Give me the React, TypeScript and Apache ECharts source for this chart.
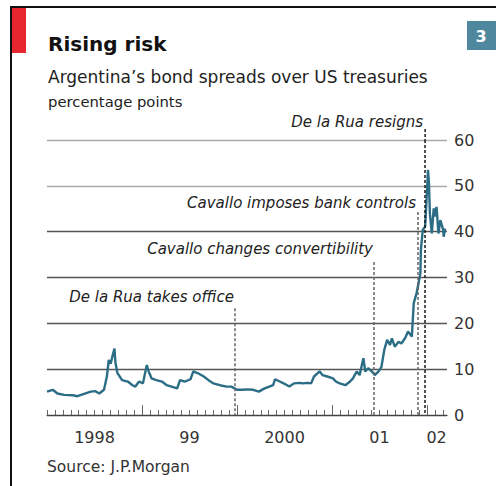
import React, { useEffect, useRef } from "react";
import * as echarts from "echarts";

// Decimal years and spread values in percentage points
const years = [
  1998.0, 1998.06, 1998.11, 1998.18, 1998.27, 1998.32, 1998.39, 1998.46, 1998.51, 1998.55,
  1998.6, 1998.63, 1998.65, 1998.67, 1998.69, 1998.71, 1998.72, 1998.74, 1998.79, 1998.85,
  1998.9, 1998.93, 1998.97, 1999.01, 1999.05, 1999.07, 1999.1, 1999.15, 1999.21, 1999.26,
  1999.31, 1999.37, 1999.4, 1999.45, 1999.51, 1999.54, 1999.59, 1999.65, 1999.7, 1999.75,
  1999.82, 1999.89, 1999.94, 2000.0, 2000.06, 2000.11, 2000.17, 2000.23, 2000.29, 2000.34,
  2000.38, 2000.4, 2000.45, 2000.5, 2000.55, 2000.6, 2000.66, 2000.69, 2000.74, 2000.78,
  2000.81, 2000.87, 2000.9, 2000.95, 2001.01, 2001.04, 2001.08, 2001.14, 2001.19, 2001.22,
  2001.26, 2001.29, 2001.33, 2001.35, 2001.38, 2001.42, 2001.45, 2001.49, 2001.52, 2001.55,
  2001.58, 2001.61, 2001.63, 2001.66, 2001.7, 2001.73, 2001.77, 2001.8, 2001.84, 2001.86,
  2001.89, 2001.91, 2001.93, 2001.935, 2001.955, 2001.98, 2002.0, 2002.01, 2002.02, 2002.03,
  2002.05, 2002.07, 2002.08, 2002.1, 2002.12, 2002.14, 2002.17, 2002.175, 2002.19,
];
const spreads = [
  5.1, 5.5, 4.7, 4.4, 4.3, 4.1, 4.6, 5.1, 5.2, 4.7,
  5.5, 8.4, 12.0, 11.2, 12.9, 14.5, 11.5, 9.2, 7.6, 7.3,
  6.5, 6.2, 7.3, 6.9, 10.9, 9.5, 8.0, 7.6, 7.3, 6.5,
  6.2, 5.8, 7.6, 7.3, 7.8, 9.5, 9.1, 8.4, 7.6, 6.9,
  6.5, 6.2, 6.2, 5.5, 5.5, 5.6, 5.5, 5.1, 5.8, 6.2,
  6.5, 7.8, 7.3, 6.8, 6.2, 6.9, 7.0, 6.9, 7.0, 6.9,
  8.4, 9.5, 8.7, 8.4, 8.0, 7.3, 6.9, 6.5, 7.3, 8.0,
  9.5, 8.7, 12.4, 9.5, 10.2, 9.5, 8.7, 9.5, 10.5, 14.2,
  16.4, 15.3, 16.7, 14.9, 16.0, 15.6, 16.8, 18.2, 17.1, 24.4,
  26.6, 28.7, 30.9, 36.0, 40.4, 41.1, 49.1, 53.5, 50.6, 44.0,
  39.6, 45.1, 43.3, 45.4, 39.6, 42.5, 40.4, 38.9, 40.7,
];

// Events: position (decimal year), top of dashed line (value), label
const eventNames = [
  "De la Rua takes office",
  "Cavallo changes convertibility",
  "Cavallo imposes bank controls",
  "De la Rua resigns",
];
const eventYears = [1999.98, 2001.44, 2001.905, 2001.98];
const eventTops = [23.3, 33.4, 44.3, 62.4];

// Axis ticks/labels
const xMin = 1998.0;
const xMax = 2002.21;
const yMin = 0;
const yMax = 60;
const yearTicks = [1999, 2000, 2001, 2002];
const xLabelPos = [1998.5, 1999.5, 2000.5, 2001.5, 2002.1];
const xLabelText = ["1998", "99", "2000", "01", "02"];
const yTicks = [0, 10, 20, 30, 40, 50, 60];

const monthTicks: number[] = [];
for (let i = 0; i <= 50; i++) monthTicks.push(1998 + i / 12);

const FONT = "DejaVu Sans";
const DASH = [3, 2];

export default function App() {
  const ref = useRef<HTMLDivElement>(null);
  useEffect(() => {
    if (!ref.current) return;
    const chart = echarts.init(ref.current, undefined, { renderer: "svg" });
    const lineData = years.map((y, i) => [y, spreads[i]]);
    const markData = eventYears.map((x, i) => [
      {
        coord: [x, Math.min(eventTops[i], yMax)],
        lineStyle: { color: i === 3 ? "#1a1a1a" : "#666" },
      },
      { coord: [x, 0] },
    ]);
    const textPos = [
      { x: 234, y: 297 },
      { x: 373, y: 249 },
      { x: 416, y: 203 },
      { x: 423, y: 122 },
    ];
    const baseGraphic: any[] = [
      { type: "line", shape: { x1: 10, y1: 7, x2: 496, y2: 7 }, style: { stroke: "#111", lineWidth: 2 } },
      { type: "line", shape: { x1: 11, y1: 6, x2: 11, y2: 486 }, style: { stroke: "#111", lineWidth: 2 } },
      { type: "rect", shape: { x: 12, y: 8, width: 14, height: 45 }, style: { fill: "#e8262f" } },
      { type: "rect", shape: { x: 467, y: 21, width: 29, height: 29 }, style: { fill: "#4f879f" } },
      {
        type: "text",
        x: 481,
        y: 36,
        style: { text: "3", fill: "#fff", font: `bold 16px ${FONT}`, align: "center", verticalAlign: "middle" },
      },
      {
        type: "text",
        x: 48,
        y: 44,
        style: { text: "Rising risk", fill: "#111", font: `bold 20px ${FONT}`, align: "left", verticalAlign: "middle" },
      },
      {
        type: "text",
        x: 48,
        y: 77,
        style: {
          text: "Argentina\u2019s bond spreads over US treasuries",
          fill: "#222",
          font: `17px ${FONT}`,
          align: "left",
          verticalAlign: "middle",
        },
      },
      {
        type: "text",
        x: 48,
        y: 101,
        style: { text: "percentage points", fill: "#222", font: `14.8px ${FONT}`, align: "left", verticalAlign: "middle" },
      },
      {
        type: "text",
        x: 47,
        y: 467,
        style: { text: "Source: J.P.Morgan", fill: "#333", font: `15.5px ${FONT}`, align: "left", verticalAlign: "middle" },
      },
      ...eventNames.map((name, i) => ({
        type: "text",
        x: textPos[i].x,
        y: textPos[i].y,
        style: {
          text: name,
          fill: "#222",
          font: `italic 15px ${FONT}`,
          align: "right",
          verticalAlign: "middle",
        },
      })),
    ];
    chart.setOption({
      animation: false,
      backgroundColor: "#fff",
      grid: { left: 47, right: 49, top: 140, bottom: 71 },
      xAxis: [
        {
          type: "value",
          min: xMin,
          max: xMax,
          axisLine: { show: true, lineStyle: { color: "#444", width: 1.2 } },
          axisTick: {
            show: true,
            inside: true,
            length: 5,
            customValues: monthTicks,
            lineStyle: { color: "#666", width: 1 },
          },
          axisLabel: {
            show: true,
            customValues: xLabelPos,
            margin: 14,
            color: "#333",
            fontFamily: FONT,
            fontSize: 16,
            formatter: (v: number) => {
              const idx = xLabelPos.findIndex((p) => Math.abs(p - v) < 1e-6);
              return idx >= 0 ? xLabelText[idx] : "";
            },
          },
          splitLine: { show: false },
        },
        {
          type: "value",
          min: xMin,
          max: xMax,
          position: "bottom",
          axisLine: { show: false },
          axisTick: {
            show: true,
            inside: true,
            length: 10,
            customValues: yearTicks,
            lineStyle: { color: "#666", width: 1 },
          },
          axisLabel: { show: false },
          splitLine: { show: false },
        },
      ],
      yAxis: {
        type: "value",
        position: "right",
        min: yMin,
        max: yMax,
        interval: 10,
        axisLine: { show: false },
        axisTick: { show: false },
        axisLabel: {
          color: "#333",
          fontFamily: FONT,
          fontSize: 16,
          margin: 7,
          customValues: yTicks,
        },
        splitLine: {
          show: true,
          lineStyle: {
            color: ["#444", "#555", "#555", "#555", "#555", "#aaa", "#aaa"],
            width: 1.3,
          },
        },
      },
      series: [
        {
          type: "line",
          data: lineData,
          showSymbol: false,
          clip: false,
          lineStyle: { color: "#2c6d86", width: 2.4 },
          z: 3,
          markLine: {
            silent: true,
            symbol: "none",
            label: { show: false },
            lineStyle: { type: DASH, width: 1.5, color: "#666" },
            data: markData,
          },
        },
      ],
      graphic: baseGraphic,
    });

    // Extend event lines whose top lies above the axis max, through the chart's own scales
    const extras: any[] = [];
    eventYears.forEach((x, i) => {
      if (eventTops[i] > yMax) {
        const p1 = chart.convertToPixel({ xAxisIndex: 0, yAxisIndex: 0 }, [x, eventTops[i]]) as number[];
        const p2 = chart.convertToPixel({ xAxisIndex: 0, yAxisIndex: 0 }, [x, yMax]) as number[];
        extras.push({
          type: "line",
          shape: { x1: p1[0], y1: p1[1], x2: p2[0], y2: p2[1] },
          style: { stroke: "#1a1a1a", lineWidth: 1.5, lineDash: DASH },
          z: 10,
        });
      }
    });
    if (extras.length) {
      chart.setOption({ graphic: [...baseGraphic, ...extras] });
    }
    return () => chart.dispose();
  }, []);
  return (
    <div
      ref={ref}
      style={{ position: "fixed", left: 0, top: 0, width: 496, height: 486 }}
    />
  );
}
